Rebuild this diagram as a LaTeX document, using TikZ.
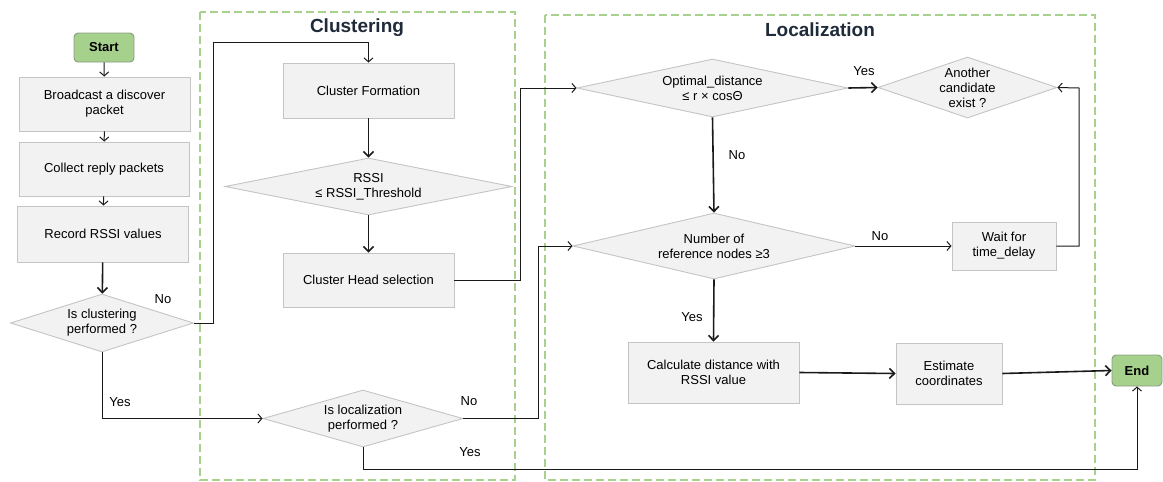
\documentclass[tikz,border=0pt]{standalone}
\usepackage{fontspec}
\setmainfont{Liberation Sans}
\usetikzlibrary{shapes.geometric,arrows.meta}
\definecolor{boxgray}{HTML}{F2F2F2}
\definecolor{bordergray}{HTML}{C4C4C4}
\definecolor{termgreen}{HTML}{A6D18C}
\definecolor{termborder}{HTML}{8A9A82}
\definecolor{dashgreen}{HTML}{A9D18E}
\definecolor{titlecol}{HTML}{1F2A3A}
\definecolor{linecol}{HTML}{1A1A1A}
\begin{document}
\begin{tikzpicture}[x=1pt,y=-1pt,
  every node/.style={font=\fontsize{13}{15}\selectfont},
  box/.style={rectangle, draw=bordergray, fill=boxgray, line width=0.9pt, align=center, inner sep=0pt},
  dec/.style={diamond, draw=bordergray, fill=boxgray, line width=0.9pt, inner sep=0pt},
  term/.style={rectangle, rounded corners=4pt, draw=termborder, fill=termgreen, line width=0.9pt, inner sep=0pt, font=\fontsize{13}{15}\selectfont\bfseries},
  group/.style={draw=dashgreen, line width=1.3pt, dash pattern=on 8pt off 4pt},
  gtitle/.style={font=\fontsize{19}{22}\selectfont\bfseries, text=titlecol},
  thin/.style={draw=linecol, line width=1pt, -{Straight Barb[length=4pt,width=9pt]}},
  thick/.style={draw=linecol, line width=1.6pt, -{Straight Barb[length=5pt,width=10pt]}},
  plain/.style={draw=linecol, line width=1pt},
  lbl/.style={inner sep=0pt}
]
\useasboundingbox (0,0) rectangle (1163,482);
% groups
\draw[group] (200,12) rectangle (515,480);
\draw[group] (545,15) rectangle (1095,480);
\node[gtitle] (tclu) at (357,28) {Clustering};
\node[gtitle] (tloc) at (820,30) {Localization};
% left column
\node[term, minimum width=60pt, minimum height=29pt] (start) at (104,47.5) {Start};
\node[box, minimum width=171pt, minimum height=54pt] (bcast) at (104.5,104) {Broadcast a discover\\packet};
\node[box, minimum width=170pt, minimum height=54pt] (coll) at (104,169) {Collect reply packets};
\node[box, minimum width=171pt, minimum height=56pt] (rec) at (103,234) {Record RSSI values};
\node[dec, minimum width=183pt, minimum height=58pt, label={[align=center]center:Is clustering\\performed ?}] (isc) at (102,323) {};
% clustering
\node[box, minimum width=171pt, minimum height=55pt] (cf) at (368.5,90.5) {Cluster Formation};
\node[dec, minimum width=287pt, minimum height=57pt, label={[align=center]center:RSSI\\≤ RSSI\_Threshold}] (rssi) at (368.5,186.5) {};
\node[box, minimum width=171pt, minimum height=54pt] (chs) at (368.5,280) {Cluster Head selection};
\node[dec, minimum width=200pt, minimum height=57pt, label={[align=center]center:Is localization\\performed ?}] (isl) at (363,418.5) {};
% localization
\node[dec, minimum width=271pt, minimum height=58pt, label={[align=center]center:Optimal\_distance\\≤ r × cosΘ}] (opt) at (712.5,88) {};
\node[dec, minimum width=179pt, minimum height=61pt, label={[align=center]center:Another\\candidate\\exist ?}] (ano) at (967.5,87.5) {};
\node[dec, minimum width=282pt, minimum height=66pt, label={[align=center]center:Number of\\reference nodes ≥3}] (num) at (714,246) {};
\node[box, minimum width=104pt, minimum height=48pt] (wait) at (1004,246) {Wait for\\time\_delay};
\node[box, minimum width=171pt, minimum height=61pt] (calc) at (713.5,372.5) {Calculate distance with\\RSSI value};
\node[box, minimum width=106pt, minimum height=61pt] (est) at (949,373.5) {Estimate\\coordinates};
\node[term, minimum width=50pt, minimum height=31pt] (endn) at (1137,370.5) {End};
% coordinates
\coordinate (c1) at (213,42);
\coordinate (c2) at (520,88);
\coordinate (c3) at (538,246);
\coordinate (c4) at (1137,469);
\coordinate (c5) at (1079,88);
% connectors
\draw[thin] (start) -- (bcast);
\draw[thin] (bcast) -- (coll);
\draw[thin] (coll) -- (rec);
\draw[thick] (rec) -- (isc);
\draw[thin] (isc.east) -| (c1) -| (cf.north);
\draw[thick] (cf) -- (rssi);
\draw[thick] (rssi) -- (chs);
\draw[thin] (chs.east) -| (c2) -- (opt.west);
\draw[thin] (isc.south) |- (isl.west);
\draw[thin] (isl.east) -| (c3) -- (num.west);
\draw[thin] (isl.south) |- (c4) -- (endn.south);
\draw[thick] (opt.south) -- (num.north);
\draw[thick] (opt.east) -- (ano.west);
\draw[thin] (num.east) -- (wait.west);
\draw[thin] (wait.east) -| (c5) -- (ano.east);
\draw[thick] (num.south) -- (calc.north);
\draw[thick] (calc.east) -- (est.west);
\draw[thick] (est.east) -- (endn.west);
% labels
\node[lbl] (l1) at (163,299) {No};
\node[lbl] (l2) at (120,402) {Yes};
\node[lbl] (l3) at (469,401) {No};
\node[lbl] (l4) at (470,452) {Yes};
\node[lbl] (l5) at (737,155) {No};
\node[lbl] (l6) at (864,71) {Yes};
\node[lbl] (l7) at (880,236) {No};
\node[lbl] (l8) at (692,317) {Yes};
\end{tikzpicture}
\end{document}
